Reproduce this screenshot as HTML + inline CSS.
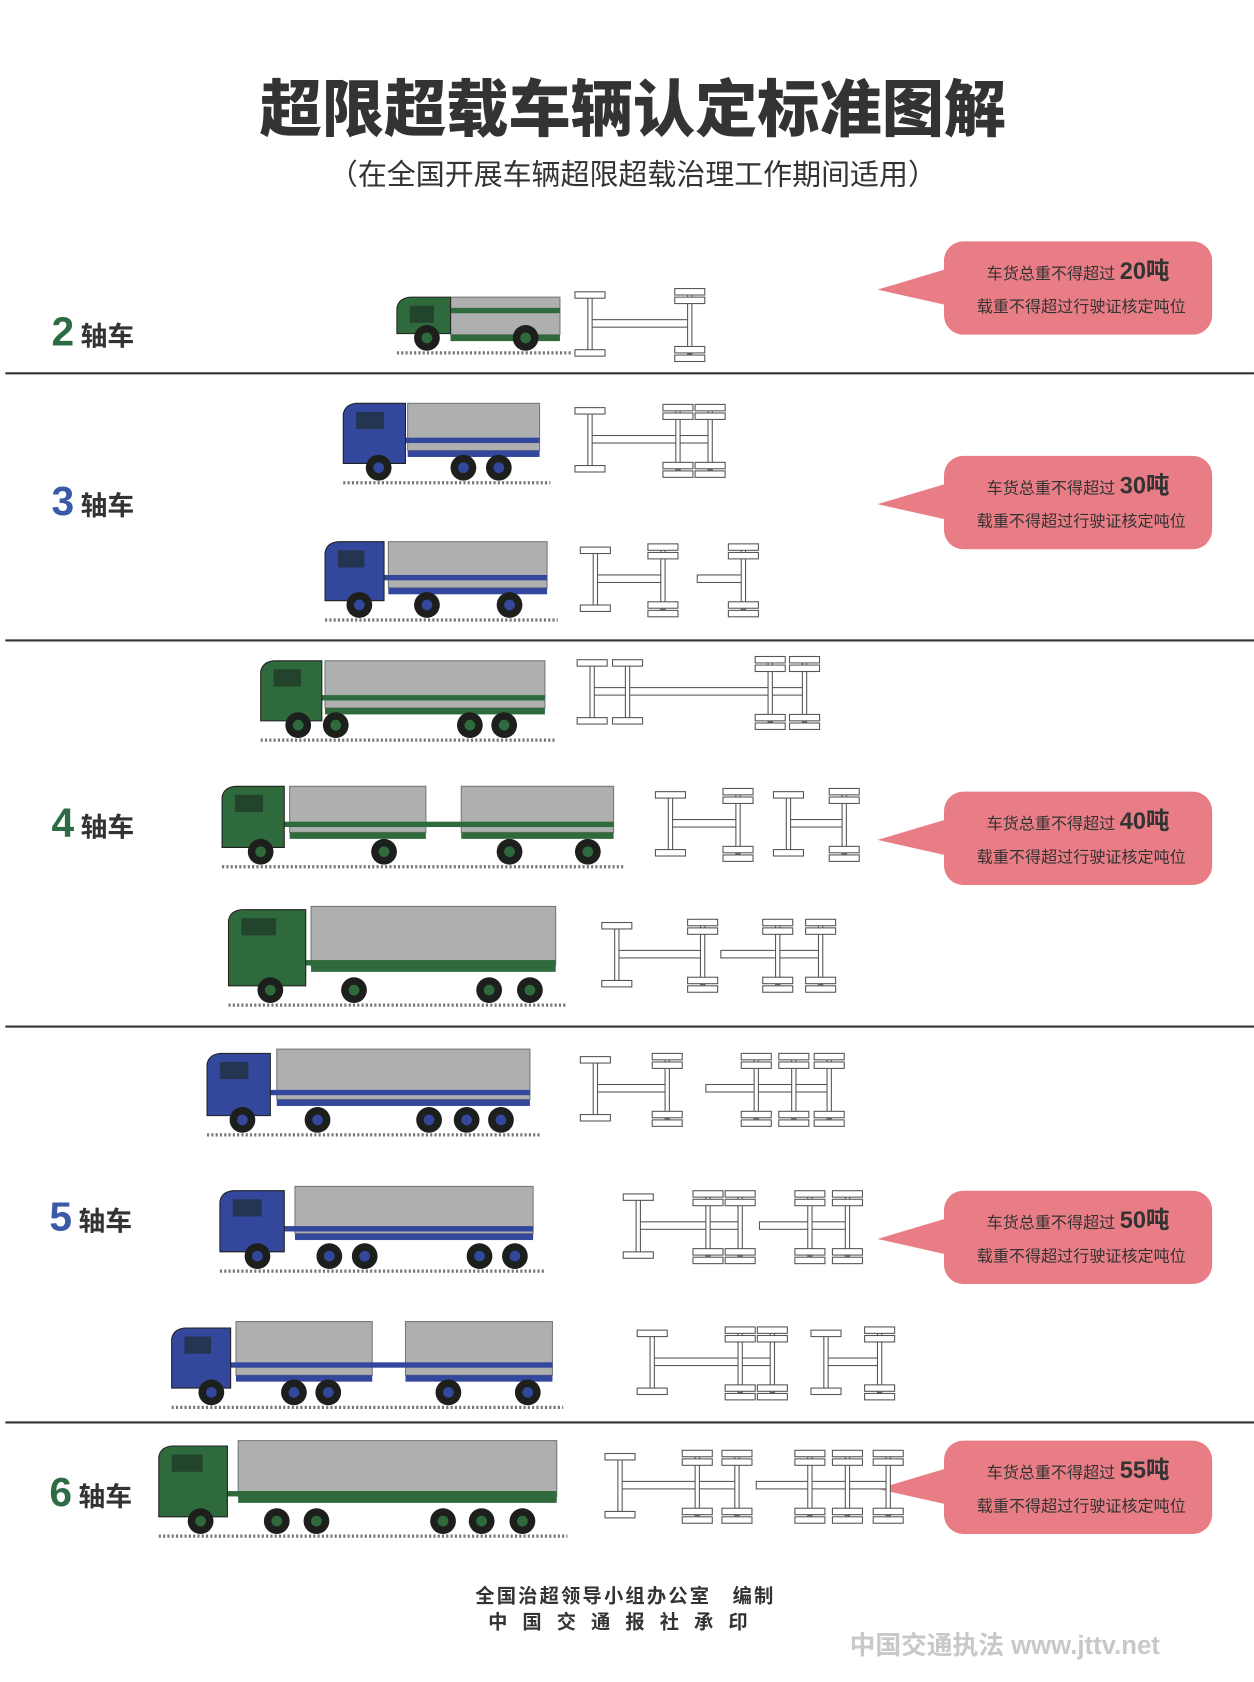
<!DOCTYPE html>
<html><head><meta charset="utf-8"><style>
html,body{margin:0;padding:0;background:#fff;}
svg{display:block}
text{font-family:"Liberation Sans","Noto Sans CJK SC",sans-serif;}
</style></head><body>
<svg id="s" width="1254" height="1682" viewBox="0 0 1169 1568" xmlns="http://www.w3.org/2000/svg">
<rect width="1169" height="1568" fill="#fff"/>
<text x="590" y="122" text-anchor="middle" font-size="58" font-weight="900" fill="#333" font-family="Noto Sans CJK SC, sans-serif">超限超载车辆认定标准图解</text>
<text x="590" y="172" text-anchor="middle" font-size="27" fill="#333" font-family="Noto Sans CJK SC, sans-serif">（在全国开展车辆超限超载治理工作期间适用）</text>
<g stroke="#333" stroke-width="2">
<line x1="5" y1="348" x2="1169" y2="348"/><line x1="5" y1="597" x2="1169" y2="597"/>
<line x1="5" y1="957" x2="1169" y2="957"/><line x1="5" y1="1326" x2="1169" y2="1326"/>
</g>
<g font-family="Noto Sans CJK SC, sans-serif" font-weight="bold">
<text x="48" y="322" font-size="38" fill="#2e6b45">2<tspan font-size="25" fill="#333" dx="6">轴车</tspan></text>
<text x="48" y="480" font-size="38" fill="#3a5aa8">3<tspan font-size="25" fill="#333" dx="6">轴车</tspan></text>
<text x="48" y="780" font-size="38" fill="#2e6b45">4<tspan font-size="25" fill="#333" dx="6">轴车</tspan></text>
<text x="46" y="1147" font-size="38" fill="#3a5aa8">5<tspan font-size="25" fill="#333" dx="6">轴车</tspan></text>
<text x="46" y="1404" font-size="38" fill="#2e6b45">6<tspan font-size="25" fill="#333" dx="6">轴车</tspan></text>
</g>
<g id="callouts" font-family="Noto Sans CJK SC, sans-serif" fill="#333"></g>
<g id="trucks"></g>
<g id="axles"></g>
<text x="583" y="1494" text-anchor="middle" font-size="18" font-weight="bold" fill="#333" font-family="Noto Sans CJK SC, sans-serif" letter-spacing="2">全国治超领导小组办公室　编制</text>
<text x="583" y="1518" text-anchor="middle" font-size="18" font-weight="bold" fill="#333" font-family="Noto Sans CJK SC, sans-serif" letter-spacing="14">中国交通报社承印</text>
<text x="792" y="1542" font-size="24" font-weight="bold" fill="#c8c8c8" font-family="Noto Sans CJK SC, sans-serif">中国交通执法 www.jttv.net</text>
</svg>
<script>
const NS="http://www.w3.org/2000/svg";
function el(p,t,a,txt){const e=document.createElementNS(NS,t);for(const k in a)e.setAttribute(k,a[k]);if(txt)e.textContent=txt;p.appendChild(e);return e;}
const C=document.getElementById('callouts');
[[225,20],[425,30],[738,40],[1110,50],[1343,55]].forEach(([y,n])=>{
 el(C,'rect',{x:880,y:y,width:250,height:87,rx:18,fill:'#e97d85'});
 el(C,'polygon',{points:`818,${y+45} 885,${y+25} 885,${y+60}`,fill:'#e97d85'});
 const t=el(C,'text',{x:1005,y:y+35,'text-anchor':'middle','font-size':15});
 t.appendChild(document.createTextNode('车货总重不得超过 '));
 el(t,'tspan',{'font-size':22,'font-weight':'bold'},n+'吨');
 el(C,'text',{x:1008,y:y+66,'text-anchor':'middle','font-size':15},'载重不得超过行驶证核定吨位');
});
const T=document.getElementById('trucks');
const G='#2f6a3c',B='#33479c';
function truck(g,cx1,cx2,ct,boxes,wheels,col){
 const r=12;
 el(T,'line',{x1:cx1,y1:g+2,x2:Math.max(...boxes.map(b=>b[1]))+10,y2:g+2,stroke:'#777','stroke-width':3,'stroke-dasharray':'2 2'});
 boxes.forEach(b=>{el(T,'rect',{x:b[0],y:b[2],width:b[1]-b[0],height:b[3]-b[2],fill:'#aeb0b0',stroke:'#777'});
  el(T,'rect',{x:b[0],y:b[3],width:b[1]-b[0],height:6,fill:col});});
 el(T,'rect',{x:cx1,y:g-r-28,width:boxes[boxes.length-1][1]-cx1,height:5,fill:col});
 el(T,'path',{d:`M${cx1} ${g-r-4} L${cx1} ${ct+10} Q${cx1+2} ${ct} ${cx1+14} ${ct} L${cx2} ${ct} L${cx2} ${g-r-4} Z`,fill:col,stroke:'#222'});
 el(T,'rect',{x:cx1+12,y:ct+8,width:(cx2-cx1)*0.45,height:16,fill:'#1a2a22',opacity:.6});
 wheels.forEach(w=>{el(T,'circle',{cx:w,cy:g-r,r:r,fill:'#1c1f1c'});el(T,'circle',{cx:w,cy:g-r,r:5,fill:col});});
}
truck(327,370,420,277,[[420,522,277,312]],[398,490],G);
truck(448,320,378,376,[[380,503,376,420]],[353,432,465],B);
truck(576,303,358,505,[[362,510,505,548]],[335,398,475],B);
truck(688,243,300,616,[[303,508,616,660]],[278,313,438,470],G);
truck(806,207,265,733,[[270,397,733,776],[430,572,733,776]],[243,358,475,548],G);
truck(935,213,285,848,[[290,518,845,900]],[252,330,456,494],G);
truck(1056,193,252,982,[[258,494,978,1025]],[226,296,400,435,467],B);
truck(1183,205,265,1110,[[275,497,1106,1150]],[240,307,340,447,480],B);
truck(1310,160,215,1238,[[220,347,1232,1282],[378,515,1232,1282]],[197,274,306,418,492],B);
truck(1430,148,212,1348,[[222,519,1343,1395]],[187,258,295,413,449,487],G);
const A=document.getElementById('axles');
const st={fill:'#fff',stroke:'#555','stroke-width':1};
function diag(y,axles,frames){
 frames.forEach(f=>el(A,'rect',Object.assign({x:f[0],y:y-4,width:f[1]-f[0],height:7},st)));
 axles.forEach(([x,d])=>{
  el(A,'rect',Object.assign({x:x-2,y:y-28,width:4,height:56},st));
  if(d){[[-33,6],[-25,6],[21,6],[29,6]].forEach(o=>el(A,'rect',Object.assign({x:x-14,y:y+o[0],width:28,height:o[1]},st)));}
  else{[[-30],[24]].forEach(o=>el(A,'rect',Object.assign({x:x-14,y:y+o[0],width:28,height:6},st)));}
 });
}
diag(302,[[550,0],[643,1]],[[550,643]]);
diag(410,[[550,0],[632,1],[662,1]],[[550,662]]);
diag(540,[[555,0],[618,1],[693,1]],[[555,618],[650,693]]);
diag(645,[[552,0],[585,0],[718,1],[750,1]],[[552,750]]);
diag(768,[[625,0],[688,1],[735,0],[787,1]],[[625,688],[735,787]]);
diag(890,[[575,0],[655,1],[725,1],[765,1]],[[575,655],[672,765]]);
diag(1015,[[555,0],[622,1],[705,1],[740,1],[773,1]],[[555,622],[658,773]]);
diag(1143,[[595,0],[660,1],[690,1],[755,1],[790,1]],[[595,690],[708,790]]);
diag(1270,[[608,0],[690,1],[720,1],[770,0],[820,1]],[[608,720],[770,820]]);
diag(1385,[[578,0],[650,1],[687,1],[755,1],[790,1],[828,1]],[[578,687],[705,828]]);
</script>
</body></html>
